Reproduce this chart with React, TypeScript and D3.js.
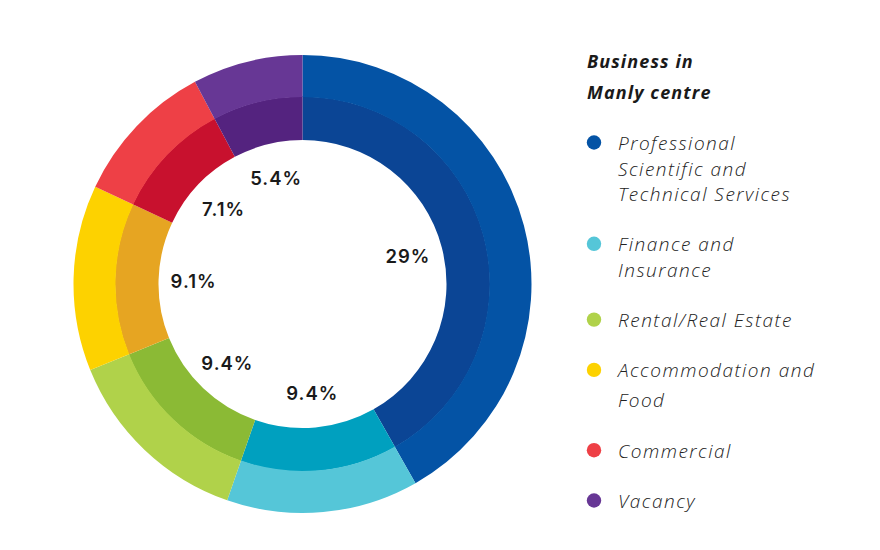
import React from "react";
import * as d3 from "d3";

const categories: string[][] = [
  ["Professional", "Scientific and", "Technical Services"],
  ["Finance and", "Insurance"],
  ["Rental/Real Estate"],
  ["Accommodation and", "Food"],
  ["Commercial"],
  ["Vacancy"],
];
const values: number[] = [29, 9.4, 9.4, 9.1, 7.1, 5.4];
const valueLabels: string[] = ["29%", "9.4%", "9.4%", "9.1%", "7.1%", "5.4%"];
const outerColors: string[] = ["#0453a5", "#55c6d8", "#b0d24a", "#fdd200", "#ee4046", "#673795"];
const innerColors: string[] = ["#0b4595", "#00a0bf", "#8bba35", "#e6a522", "#c8112e", "#54237f"];
const legendTitle: string[] = ["Business in", "Manly centre"];
const legendLineGaps: number[] = [25.5, 25.5, 25.5, 30, 25.5, 25.5];

export default function App() {
  const width = 880;
  const height = 550;
  const cx = 302.5;
  const cy = 284;
  const rOuter = 229;
  const rMid = 187;
  const rInner = 144;
  const rLabel = 109;

  const pie = d3
    .pie<number>()
    .sort(null)
    .value((d) => d);
  const arcs = pie(values);

  const outerArc = d3.arc<d3.PieArcDatum<number>>().innerRadius(rMid).outerRadius(rOuter);
  const innerArc = d3.arc<d3.PieArcDatum<number>>().innerRadius(rInner).outerRadius(rMid + 0.5);
  const labelArc = d3.arc<d3.PieArcDatum<number>>().innerRadius(rLabel).outerRadius(rLabel);

  const legendX = 587;
  const textX = 618;
  let y = 150;
  const legendItems = categories.map((lines, i) => {
    const first = y;
    const lineYs = lines.map((_, j) => first + j * legendLineGaps[i]);
    y = lineYs[lineYs.length - 1] + 50.3;
    return { lines, lineYs, color: outerColors[i] };
  });

  return (
    <svg
      width={width}
      height={height}
      style={{ position: "absolute", left: 0, top: 0, background: "#ffffff" }}
    >
      <rect width={width} height={height} fill="#ffffff" />
      <g transform={`translate(${cx},${cy})`}>
        {arcs.map((a, i) => (
          <path key={"i" + i} d={innerArc(a) || ""} fill={innerColors[i]} />
        ))}
        {arcs.map((a, i) => (
          <path key={"o" + i} d={outerArc(a) || ""} fill={outerColors[i]} />
        ))}
        {arcs.map((a, i) => {
          const [x, yy] = labelArc.centroid(a);
          return (
            <text
              key={"l" + i}
              x={x}
              y={yy}
              textAnchor="middle"
              dominantBaseline="central"
              fontFamily="Inter, 'Noto Sans', sans-serif"
              fontWeight={600}
              fontSize={18.5}
              letterSpacing={1}
              fill="#1a1a1a"
            >
              {valueLabels[i]}
            </text>
          );
        })}
      </g>
      <g>
        {legendTitle.map((t, i) => (
          <text
            key={"t" + i}
            x={legendX}
            y={68 + i * 31.3}
            fontFamily="'Open Sans', sans-serif"
            fontWeight={700}
            fontStyle="italic"
            fontSize={18}
            letterSpacing={1.1}
            fill="#1a1a1a"
          >
            {t}
          </text>
        ))}
        {legendItems.map((item, i) => (
          <g key={"g" + i}>
            <circle cx={594} cy={item.lineYs[0] - 7.5} r={7.2} fill={item.color} />
            {item.lines.map((ln, j) => (
              <text
                key={j}
                x={textX}
                y={item.lineYs[j]}
                fontFamily="'Open Sans', sans-serif"
                fontWeight={300}
                fontStyle="italic"
                fontSize={19}
                letterSpacing={1.5}
                fill="#222222"
              >
                {ln}
              </text>
            ))}
          </g>
        ))}
      </g>
    </svg>
  );
}
